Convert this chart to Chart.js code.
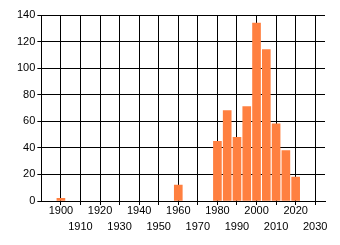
<!DOCTYPE html>
<html>
<head>
<meta charset="utf-8">
<script src="https://cdn.jsdelivr.net/npm/chart.js@4/dist/chart.umd.min.js"></script>
<style>
  html, body { margin: 0; padding: 0; background: #fff; }
  #wrap { width: 340px; height: 245px; }
</style>
</head>
<body>
<div id="wrap"><canvas id="myChart" width="340" height="245"></canvas></div>
<script>
// values
const years = [1900, 1960, 1980, 1985, 1990, 1995, 2000, 2005, 2010, 2015, 2020];
const counts = [2, 12, 45, 68, 48, 71, 134, 114, 58, 38, 18];
const xTicks = [1900, 1910, 1920, 1930, 1940, 1950, 1960, 1970, 1980, 1990, 2000, 2010, 2020, 2030];
const yTicks = [0, 20, 40, 60, 80, 100, 120, 140];
const xMin = 1890;
const xMax = 2035;

const points = years.map(function (y, i) { return { x: y, y: counts[i] }; });

const ctx = document.getElementById('myChart').getContext('2d');

// eslint-disable-next-line no-undef
const chart = new Chart(ctx, {
  type: 'bar',
  data: {
    datasets: [{
      data: points,
      backgroundColor: '#FF8040',
      borderWidth: 0,
      barThickness: 8,
    }]
  },
  options: {
    responsive: false,
    animation: false,
    layout: { padding: { left: 15, right: 15, top: 15, bottom: 12 } },
    plugins: { legend: { display: false }, tooltip: { enabled: false } },
    scales: {
      x: {
        type: 'linear',
        min: xMin,
        max: xMax,
        offset: false,
        grid: { offset: false, color: '#000', tickColor: '#000', lineWidth: 1, tickLength: 4 },
        border: { color: '#000' },
        afterBuildTicks: function (axis) {
          axis.ticks = xTicks.map(function (v) { return { value: v }; });
        },
        ticks: {
          autoSkip: false,
          maxRotation: 0,
          padding: -2,
          color: '#000',
          font: { family: 'Liberation Sans', size: 11, lineHeight: '16px' },
          // every other label goes on a second row
          callback: function (v) {
            return (v % 20 === 0) ? String(v) : ['', String(v)];
          }
        }
      },
      y: {
        min: 0,
        max: 140,
        grid: { color: '#000', tickColor: '#000', lineWidth: 1, tickLength: 4 },
        border: { color: '#000' },
        afterBuildTicks: function (axis) {
          axis.ticks = yTicks.map(function (v) { return { value: v }; });
        },
        ticks: {
          padding: 2,
          color: '#000',
          font: { family: 'Liberation Sans', size: 11 }
        }
      }
    }
  }
});
</script>
</body>
</html>
